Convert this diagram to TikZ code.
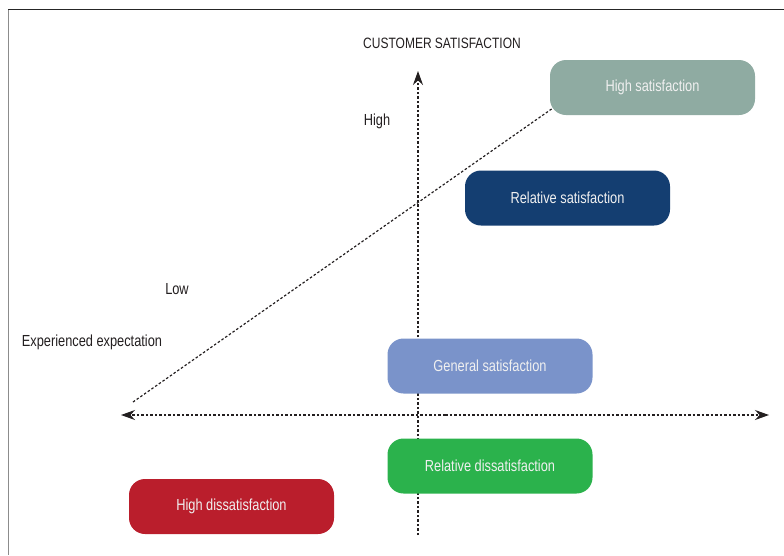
\documentclass[tikz,border=0pt]{standalone}
\usepackage{fontspec}
\setmainfont{Liberation Sans}[FakeStretch=0.8]
\usetikzlibrary{arrows.meta}
\definecolor{hsat}{HTML}{8FABA2}
\definecolor{rsat}{HTML}{143E71}
\definecolor{gsat}{HTML}{7A93CA}
\definecolor{rdis}{HTML}{2BB24C}
\definecolor{hdis}{HTML}{BA1E2C}
\definecolor{txt}{HTML}{231F20}
\tikzset{
  box/.style={rounded corners=16pt, minimum width=205pt, minimum height=55pt, inner sep=0pt,
    text=white!94!black, font=\fontsize{16}{18}\selectfont},
  lbl/.style={text=txt, font=\fontsize{16}{18}\selectfont, inner sep=0pt},
  axis/.style={line width=1.2pt, dash pattern=on 2.5pt off 2pt, draw=txt},
  tip/.style={-{Stealth[length=14pt,width=10pt]}},
}
\begin{document}
\begin{tikzpicture}[x=1pt,y=-1pt]
\useasboundingbox (0,0) rectangle (784,555);
% frame
\draw[line width=1.5pt, draw=black!85] (8,9.5) -- (784,9.5);
\draw[line width=1.5pt, draw=black!45] (8.5,9.5) -- (8.5,555);
% axes (behind boxes)
\coordinate (vb) at (418,535);
\coordinate (vt) at (418,71);
\coordinate (hc) at (445,415);
\coordinate (hl) at (121,415);
\coordinate (hr) at (769,415);
\coordinate (d0) at (133,402);
\coordinate (d1) at (553,108);
\draw[axis, tip] (vb) -- (vt);
\draw[axis, tip] (hc) -- (hl);
\draw[axis, tip] (hc) -- (hr);
\draw[axis] (d0) -- (d1);
% boxes
\node[box, fill=hsat] (hs) at (652.5,87.5) {High satisfaction};
\node[box, fill=rsat] (rs) at (567.5,198) {Relative satisfaction};
\node[box, fill=gsat] (gs) at (490,366) {General satisfaction};
\node[box, fill=rdis] (rd) at (490,466) {Relative dissatisfaction};
\node[box, fill=hdis] (hd) at (231.5,506.5) {High dissatisfaction};
% labels
\node[lbl, font=\fontsize{15}{17}\selectfont] (title) at (442,43) {CUSTOMER SATISFACTION};
\node[lbl] (high) at (377,121) {High};
\node[lbl] (low) at (177,289) {Low};
\node[lbl] (exp) at (92,342) {Experienced expectation};
\end{tikzpicture}
\end{document}
